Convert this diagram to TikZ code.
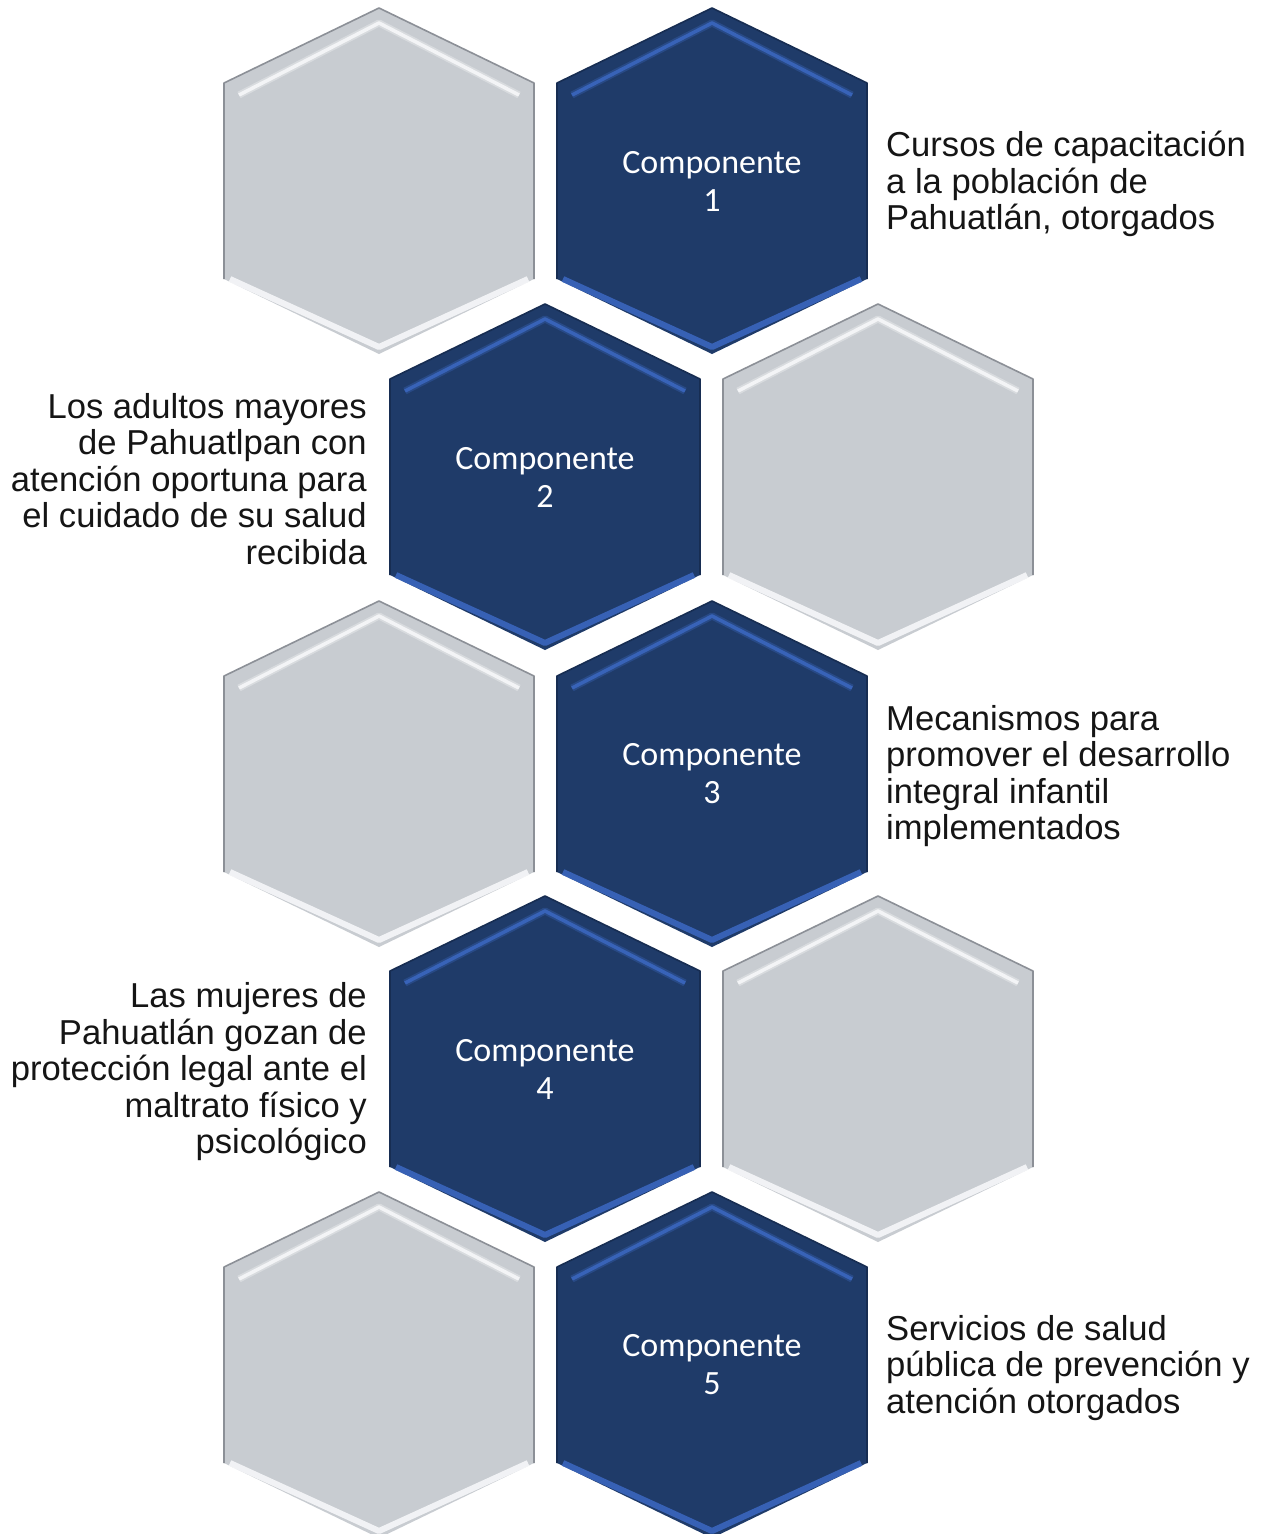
\documentclass[tikz,border=0pt]{standalone}
\usepackage{fontspec}
\setmainfont{Liberation Sans}
\newfontfamily\calib{Carlito}
\definecolor{navyfill}{HTML}{1F3B69}
\definecolor{navyedge}{HTML}{172D52}
\definecolor{navyhi}{HTML}{3A66BE}
\definecolor{grayfill}{HTML}{C8CCD1}
\definecolor{grayedge}{HTML}{8C9097}
\definecolor{grayhi}{HTML}{F6F7F9}
\definecolor{txt}{HTML}{151515}
\tikzset{
  comptext/.style={text=white, font=\calib\fontsize{34}{38}\selectfont, align=center},
  desc/.style={text=txt, font=\fontsize{34.6}{36.5}\selectfont, inner sep=0pt},
}
% #1 name, #2 cx, #3 cy, #4 fill, #5 edge, #6 highlight
\newcommand\hexcell[6]{%
  \begin{scope}[shift={(#2,#3)}]
    \coordinate (#1) at (0,0);
    \fill[#4] (0,-173) -- (155,-98) -- (155,98) -- (0,173) -- (-155,98) -- (-155,-98) -- cycle;
    \draw[#5, line width=1.6pt, line join=round] (-155,98) -- (-155,-98) -- (0,-173) -- (155,-98) -- (155,98);
    \draw[#6, line width=7pt, line join=round, opacity=0.35]
      (-140,-86) -- (0,-158) -- (140,-86);
    \draw[#6, line width=3.5pt, line join=round, opacity=0.9]
      (-140,-86) -- (0,-158) -- (140,-86);
    \draw[#6, line width=6pt, line join=round, opacity=0.9]
      (-149,98) -- (0,166) -- (149,98);
  \end{scope}}
\begin{document}
\begin{tikzpicture}[x=1pt,y=-1pt]
\useasboundingbox[fill=white] (0,0) rectangle (1261,1534);
% row 1
\hexcell{g1}{379}{181}{grayfill}{grayedge}{grayhi}
\hexcell{b1}{712}{181}{navyfill}{navyedge}{navyhi}
% row 2
\hexcell{b2}{545}{477}{navyfill}{navyedge}{navyhi}
\hexcell{g2}{878}{477}{grayfill}{grayedge}{grayhi}
% row 3
\hexcell{g3}{379}{774}{grayfill}{grayedge}{grayhi}
\hexcell{b3}{712}{774}{navyfill}{navyedge}{navyhi}
% row 4
\hexcell{b4}{545}{1069}{navyfill}{navyedge}{navyhi}
\hexcell{g4}{878}{1069}{grayfill}{grayedge}{grayhi}
% row 5
\hexcell{g5}{379}{1365}{grayfill}{grayedge}{grayhi}
\hexcell{b5}{712}{1365}{navyfill}{navyedge}{navyhi}
% component labels
\node[comptext] (c1) at (b1) {Componente\\1};
\node[comptext] (c2) at (b2) {Componente\\2};
\node[comptext] (c3) at (b3) {Componente\\3};
\node[comptext] (c4) at (b4) {Componente\\4};
\node[comptext] (c5) at (b5) {Componente\\5};
% descriptions
\node[desc, anchor=west, align=left] (d1) at (886,184) {Cursos de capacitación\\a la población de\\Pahuatlán, otorgados};
\node[desc, anchor=east, align=right] (d2) at (367,479) {Los adultos mayores\\de Pahuatlpan con\\atención oportuna para\\el cuidado de su salud\\recibida};
\node[desc, anchor=west, align=left] (d3) at (886,776) {Mecanismos para\\promover el desarrollo\\integral infantil\\implementados};
\node[desc, anchor=east, align=right] (d4) at (367,1072) {Las mujeres de\\Pahuatlán gozan de\\protección legal ante el\\maltrato físico y\\psicológico};
\node[desc, anchor=west, align=left] (d5) at (886,1368) {Servicios de salud\\pública de prevención y\\atención otorgados};
\end{tikzpicture}
\end{document}
